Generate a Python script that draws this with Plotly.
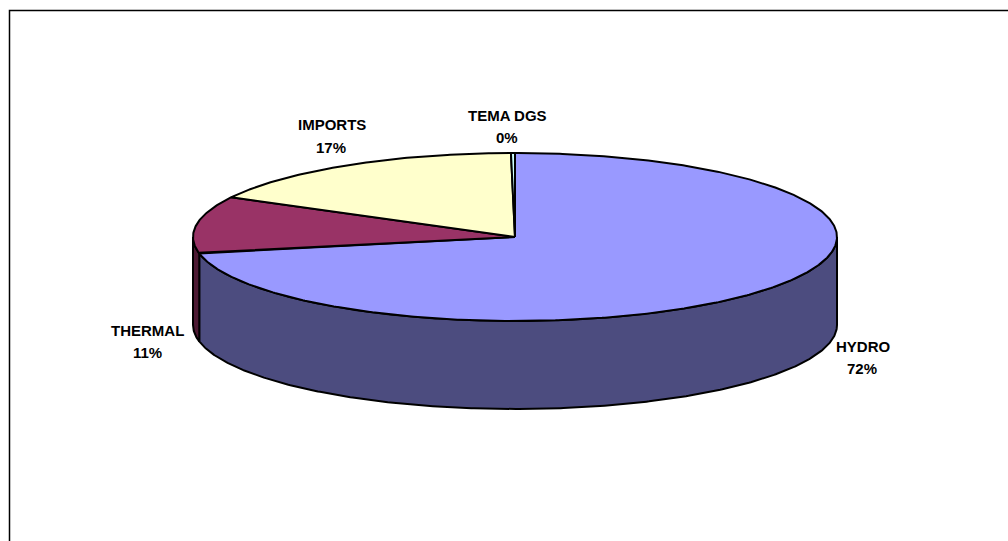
import numpy as np
import plotly.graph_objects as go

# Generation mix shares
categories = ["HYDRO", "THERMAL", "IMPORTS", "TEMA DGS"]
shares = [72, 11, 17, 0.2]
top_colors = ["#9999FF", "#993366", "#FFFFCC", "#CCFFFF"]
side_colors = ["#4C4C7F", "#4D1A33", "#7F7F66", "#667F7F"]

# Label anchors (pixel space): name line and percentage line
name_pos = [(863, 346), (147, 330), (332, 124), (507, 115)]
pct_pos = [(862, 368), (147, 352), (331, 147), (507, 137)]

W, H = 1008, 541
CX, CY = 515, 237      # centre of the top face
RX, RY = 322, 84       # ellipse radii of the tilted disc
DEPTH = 88             # thickness of the disc


def arc(a0, a1, dy=0.0, n=None):
    """Points on the ellipse from angle a0 to a1 (degrees, clockwise from 12 o'clock)."""
    if n is None:
        n = max(2, int(abs(a1 - a0) * 2) + 2)
    t = np.radians(np.linspace(a0, a1, n))
    return CX + RX * np.sin(t), CY - RY * np.cos(t) + dy


total = sum(shares)
bounds = np.concatenate([[0.0], np.cumsum(shares) / total * 360.0])

fig = go.Figure()

# Outer walls: only the front half (90..270 deg) of the disc is visible
for i, name in enumerate(categories):
    a, b = bounds[i], bounds[i + 1]
    lo, hi = max(a, 90.0), min(b, 270.0)
    if hi <= lo:
        continue
    xt, yt = arc(lo, hi)
    xb, yb = arc(hi, lo, dy=DEPTH)
    xs = np.concatenate([xt, xb, xt[:1]])
    ys = np.concatenate([yt, yb, yt[:1]])
    fig.add_trace(go.Scatter(
        x=xs, y=ys, mode="lines", fill="toself",
        fillcolor=side_colors[i], line=dict(color="black", width=2),
        hoverinfo="skip", showlegend=False))

# Top faces of the slices
for i, name in enumerate(categories):
    a, b = bounds[i], bounds[i + 1]
    xa, ya = arc(a, b)
    xs = np.concatenate([[CX], xa, [CX]])
    ys = np.concatenate([[CY], ya, [CY]])
    fig.add_trace(go.Scatter(
        x=xs, y=ys, mode="lines", fill="toself",
        fillcolor=top_colors[i], line=dict(color="black", width=2),
        hoverinfo="skip", showlegend=False))

# Data labels: category name above its rounded percentage
font = dict(family="Liberation Sans, Arial, sans-serif", size=15, color="black")
for i, name in enumerate(categories):
    pct = round(shares[i] / total * 100)
    for text, (x, y) in ((f"<b>{name}</b>", name_pos[i]), (f"<b>{pct}%</b>", pct_pos[i])):
        fig.add_annotation(x=x, y=y, text=text, showarrow=False, font=font,
                           xanchor="center", yanchor="middle")

# Chart area border
fig.add_shape(type="rect", x0=9.5, y0=10.5, x1=1030, y1=560,
              line=dict(color="black", width=1.5), fillcolor="rgba(0,0,0,0)", layer="below")

fig.update_layout(
    width=W, height=H,
    margin=dict(l=0, r=0, t=0, b=0),
    paper_bgcolor="white", plot_bgcolor="white",
    xaxis=dict(range=[0, W], visible=False, fixedrange=True),
    yaxis=dict(range=[H, 0], visible=False, fixedrange=True),
    showlegend=False,
)

fig.write_html("out.html")
